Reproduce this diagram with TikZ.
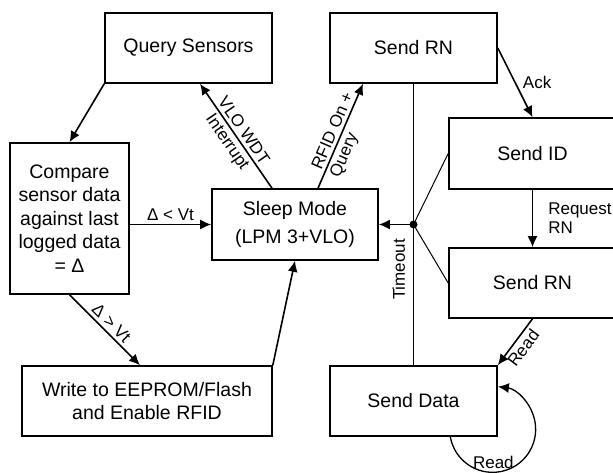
\documentclass[tikz,border=0pt]{standalone}
\usepackage{fontspec}
\setmainfont{Liberation Sans}
\usepackage{tikz}
\usetikzlibrary{shapes.geometric, arrows.meta}
\tikzstyle{process} = [rectangle, minimum width=167pt, minimum height=70pt, text centered, align=center, draw=black, line width=1.6pt, font=\fontsize{19.5}{23.5}\selectfont]
\tikzstyle{arrow} = [line width=1.6pt,-{Latex[length=11pt,width=10pt]}]
\tikzstyle{line} = [line width=1pt]
\tikzstyle{lbl} = [font=\fontsize{17}{19}\selectfont, inner sep=3pt, align=center]

\begin{document}
\begin{tikzpicture}[x=1pt, y=-1pt]
\useasboundingbox (0,0) rectangle (613,472);
\clip (0,0) rectangle (613,472);
\node (querysensors) [process] at (188.5,48) {Query Sensors};
\node (compare) [process, minimum width=119pt, minimum height=151pt] at (69.5,218.5) {Compare\\sensor data\\against last\\logged data\\= Δ};
\node (sleepmode) [process, minimum width=166pt, minimum height=71pt] at (295,224.5) {Sleep Mode\\[5pt](LPM 3+VLO)};
\node (write) [process, minimum width=250pt] at (147,401) {Write to EEPROM/Flash\\and Enable RFID};
\node (sendrntop) [process] at (413.5,48) {Send RN};
\node (sendid) [process, minimum height=71pt] at (532.5,153.5) {Send ID};
\node (sendrnbot) [process] at (532.5,283) {Send RN};
\node (senddata) [process] at (413.5,401) {Send Data};
\coordinate (junction) at (sendrntop.south |- sleepmode.east);

\draw [arrow] (querysensors.south west) -- (compare.north);
\draw [arrow] (compare.east |- sleepmode.west) -- node[lbl, above] {Δ < Vt} (sleepmode.west);
\draw [arrow] (compare.south) -- node[lbl, above, sloped] {Δ > Vt} ([xshift=-7pt]write.north);
\draw [arrow] (write.north east) -- (sleepmode.south);
\draw [arrow] ([xshift=-23pt]sleepmode.north) -- node[lbl, sloped, above] {VLO WDT} node[lbl, sloped, below] {Interrupt} ([xshift=11.5pt]querysensors.south);
\draw [arrow] ([xshift=23pt]sleepmode.north) -- node[lbl, sloped, pos=0.12, anchor=south west] {RFID On +} node[lbl, sloped, pos=0.12, anchor=north west] {Query} ([xshift=-50.5pt]sendrntop.south);
\draw [arrow] (sendrntop.east) -- node[lbl, right, xshift=4pt] {Ack} (sendid.north);
\draw [arrow] (sendid.south) -- node[lbl, right, align=left, xshift=12pt] {Request\\RN} (sendrnbot.north);
\draw [arrow] (sendrnbot.south) -- node[lbl, sloped, below] {Read} (senddata.north east);
\draw [line] (sendrntop.south) -- node[lbl, pos=0.66, rotate=90, above, inner sep=8pt] {Timeout} (senddata.north);
\draw [line] (junction) -- (sendid.west);
\draw [line] (junction) -- (sendrnbot.west);
\draw [arrow] (junction) -- (sleepmode.east);
\fill (junction) circle (4pt);
\draw [line width=1.3pt, -{Latex[length=11pt,width=10pt]}] ([xshift=-47.5pt]senddata.south east) arc[start angle=-170, end angle=83, radius=43pt] node[lbl, pos=0.32, above, inner sep=3pt] {Read};
\end{tikzpicture}
\end{document}
